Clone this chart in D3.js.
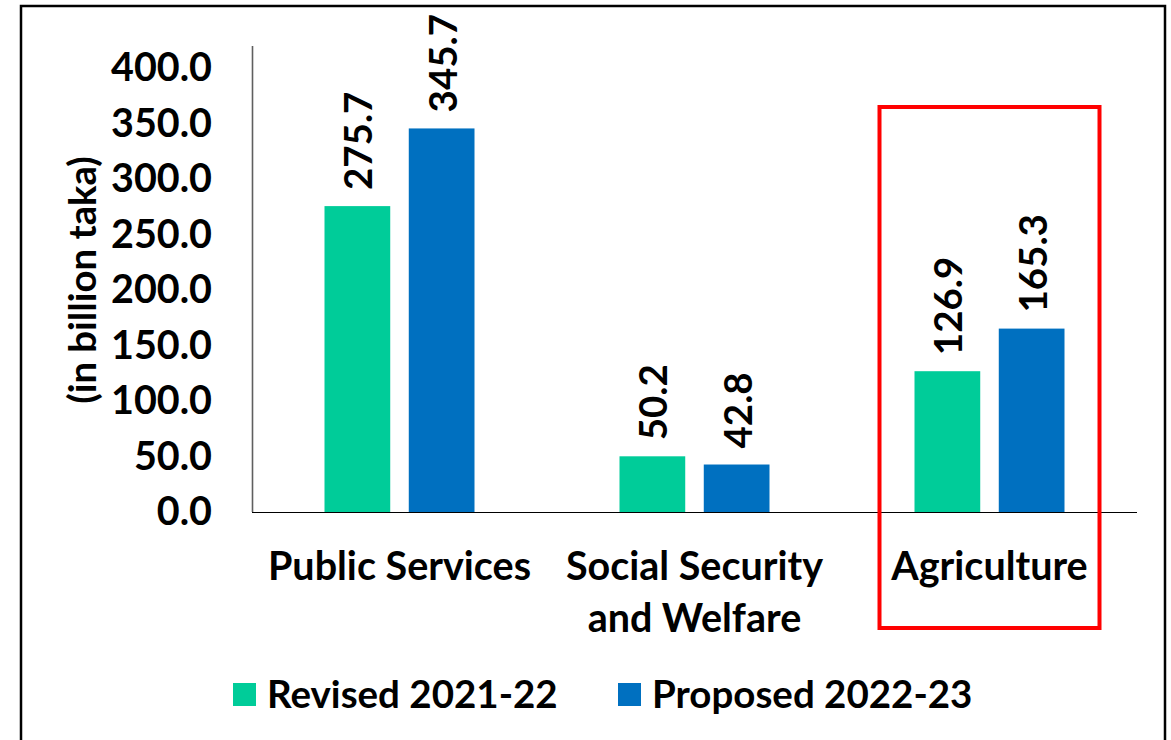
<!DOCTYPE html>
<html>
<head>
<meta charset="utf-8">
<script src="https://cdn.jsdelivr.net/npm/d3@7"></script>
<style>
  html, body { margin: 0; padding: 0; background: #fff; }
  svg { display: block; }
  text { font-family: Lato, "Open Sans", sans-serif; font-weight: 700; fill: #000; }
</style>
</head>
<body>
<svg id="chart" width="1171" height="740"></svg>
<script>
// Budget allocation by sector, in billion taka
const categories = ["Public Services", "Social Security and Welfare", "Agriculture"];
const categoryLines = [["Public Services"], ["Social Security", "and Welfare"], ["Agriculture"]];
const seriesNames = ["Revised 2021-22", "Proposed 2022-23"];
const revised = [275.7, 50.2, 126.9];
const proposed = [345.7, 42.8, 165.3];
const yTicks = [0, 50, 100, 150, 200, 250, 300, 350, 400];
const highlighted = "Agriculture";

const colors = ["#00CC99", "#0070C0"];
const values = [revised, proposed];

const svg = d3.select("#chart");
const fontSize = 39.5;
const labelSize = 38.5;
const legendSize = 38.5;

// outer frame (open at the bottom)
svg.append("path")
  .attr("d", "M21,745 L21,6 L1165,6 L1165,745")
  .attr("fill", "none")
  .attr("stroke", "#000")
  .attr("stroke-width", 2.5);

const plot = { left: 252, right: 1137, top: 46, bottom: 512 };

const x0 = d3.scaleBand().domain(categories).range([plot.left, plot.right]).padding(0);
const x1 = d3.scaleBand().domain(seriesNames).range([-75, 75]).paddingInner(0.22);
const y = d3.scaleLinear().domain([0, 420]).range([plot.bottom, plot.top]);

// y axis: labels only, with a gray spine
const yAxis = d3.axisLeft(y).tickValues(yTicks).tickFormat(d3.format(".1f")).tickSize(0).tickPadding(40);
const gy = svg.append("g").attr("transform", `translate(${plot.left},0)`).call(yAxis);
gy.select(".domain").attr("stroke", "#5f5f5f").attr("stroke-width", 1.6)
  .attr("d", `M0.5,${plot.top}V${plot.bottom}`);
gy.selectAll(".tick text").attr("font-size", fontSize).attr("font-family", null).attr("fill", "#000");

// y axis title
svg.append("text")
  .attr("transform", `translate(83,${280}) rotate(-90)`)
  .attr("text-anchor", "middle")
  .attr("dy", "0.35em")
  .attr("font-size", fontSize * 0.97)
  .text("(in billion taka)");

// bars
const groups = svg.append("g").selectAll("g")
  .data(categories)
  .join("g")
  .attr("transform", d => `translate(${x0(d) + x0.bandwidth() / 2},0)`);

groups.each(function(cat, i) {
  const g = d3.select(this);
  seriesNames.forEach((s, j) => {
    const v = values[j][i];
    g.append("rect")
      .attr("x", x1(s))
      .attr("y", y(v))
      .attr("width", x1.bandwidth())
      .attr("height", y(0) - y(v))
      .attr("fill", colors[j]);
    g.append("text")
      .attr("transform", `translate(${x1(s) + x1.bandwidth() / 2 + 1},${y(v) - 16}) rotate(-90)`)
      .attr("text-anchor", "start")
      .attr("dy", "0.36em")
      .attr("font-size", labelSize)
      .text(d3.format(".1f")(v));
  });
});

// x axis baseline
svg.append("line")
  .attr("x1", plot.left).attr("x2", plot.right)
  .attr("y1", plot.bottom + 0.5).attr("y2", plot.bottom + 0.5)
  .attr("stroke", "#000").attr("stroke-width", 1.2);

// category labels
categories.forEach((c, i) => {
  const t = svg.append("text")
    .attr("x", x0(c) + x0.bandwidth() / 2)
    .attr("y", 580)
    .attr("text-anchor", "middle")
    .attr("font-size", fontSize);
  categoryLines[i].forEach((line, k) => {
    t.append("tspan")
      .attr("x", x0(c) + x0.bandwidth() / 2)
      .attr("dy", k === 0 ? 0 : 52)
      .text(line);
  });
});

// highlight frame around one category
const hx = x0(highlighted) + x0.bandwidth() / 2;
svg.append("rect")
  .attr("x", hx - 110).attr("y", 107)
  .attr("width", 220).attr("height", 521)
  .attr("fill", "none")
  .attr("stroke", "#FF0000")
  .attr("stroke-width", 4);

// legend
const legendX = [233, 618];
seriesNames.forEach((s, j) => {
  svg.append("rect")
    .attr("x", legendX[j]).attr("y", 683)
    .attr("width", 23).attr("height", 23)
    .attr("fill", colors[j]);
  svg.append("text")
    .attr("x", legendX[j] + 34).attr("y", 694.5)
    .attr("dy", "0.36em")
    .attr("font-size", legendSize)
    .text(s);
});
</script>
</body>
</html>
